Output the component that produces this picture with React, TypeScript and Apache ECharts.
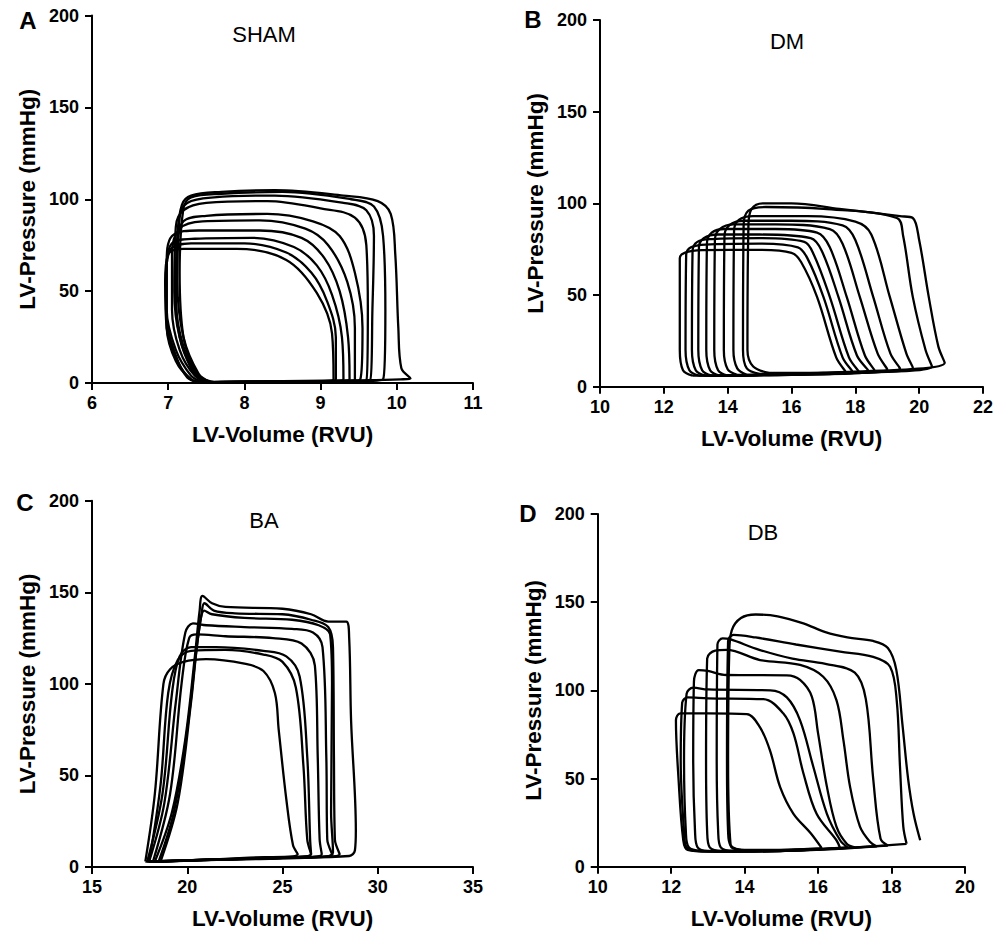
import { useEffect, useRef } from "react";
import * as echarts from "echarts";

type Pt = [number, number];

const panelLetters = ["A", "B", "C", "D"];
const groupNames = ["SHAM", "DM", "BA", "DB"];
const volumeMin = [6, 10, 15, 10];
const volumeMax = [11, 22, 35, 20];
const volumeStep = [1, 2, 5, 2];
const pressureMin = 0;
const pressureMax = 200;
const pressureStep = 50;
const xTitle = "LV-Volume (RVU)";
const yTitle = "LV-Pressure (mmHg)";

// Panel A – SHAM: pressure-volume loops [volume RVU, pressure mmHg]
const shamLoops: Pt[][] = [
  [[7.45,0.5],[8.5,1],[9.6,1.5],[10.05,2],[10.18,2.5],[10.06,8],[10.02,30],[9.98,70],[9.92,92],[9.75,99],[9.3,102],[8.4,105],[7.7,104],[7.3,102],[7.18,97],[7.12,80],[7.1,50],[7.15,25],[7.3,8],[7.45,0.5]],
  [[7.5,0.5],[9.4,1],[9.82,2],[9.85,40],[9.82,80],[9.7,96],[9.4,100],[8.5,104],[7.7,103],[7.3,101],[7.2,95],[7.15,60],[7.2,25],[7.35,7],[7.5,0.5]],
  [[7.55,0.5],[9.3,1],[9.65,1.5],[9.68,40],[9.7,80],[9.6,94],[9.3,98],[8.4,102],[7.6,101],[7.25,98],[7.15,90],[7.12,55],[7.2,25],[7.4,5],[7.55,0.5]],
  [[7.5,0.5],[9.2,1],[9.6,1.5],[9.62,40],[9.6,75],[9.45,90],[9.0,95],[8.3,99],[7.5,98],[7.2,94],[7.1,85],[7.08,50],[7.15,25],[7.35,5],[7.5,0.5]],
  [[7.6,0.5],[9.3,1],[9.52,2],[9.55,30],[9.45,60],[9.25,80],[8.9,88],[8.3,92],[7.5,91],[7.2,88],[7.12,75],[7.1,45],[7.2,20],[7.4,4],[7.6,0.5]],
  [[7.55,0.5],[9.2,1],[9.45,1.5],[9.45,30],[9.35,55],[9.1,75],[8.8,84],[8.2,88.5],[7.45,88],[7.15,84],[7.05,70],[7.05,40],[7.15,18],[7.35,4],[7.55,0.5]],
  [[7.45,0.5],[9.15,1],[9.38,2],[9.36,25],[9.25,50],[9.05,68],[8.75,79],[8.2,83],[7.4,83],[7.05,80],[6.98,65],[6.98,40],[7.1,18],[7.3,4],[7.45,0.5]],
  [[7.4,0.5],[9.1,1],[9.3,2],[9.28,25],[9.15,48],[8.95,64],[8.65,74],[8.1,79],[7.35,78.5],[7.05,76],[6.98,60],[6.98,35],[7.1,15],[7.25,3],[7.4,0.5]],
  [[7.4,0.5],[9.05,1],[9.2,2],[9.2,25],[9.08,45],[8.88,60],[8.55,71],[8.0,76],[7.3,76],[7.02,72],[6.97,55],[6.98,30],[7.1,12],[7.3,2],[7.45,0.5]],
  [[7.45,0.5],[9.0,1],[9.17,2],[9.15,27],[8.95,49],[8.55,67],[7.9,73],[7.2,73],[7.0,70],[6.96,55],[6.98,30],[7.12,12],[7.3,2],[7.45,0.5]],
];

// Panel B – DM
const dmLoops: Pt[][] = [
  [[12.9,6],[14,6],[16,6.5],[17.7,8],[17.4,16],[16.8,49],[16.3,68],[16.0,73],[15,74.6],[13.2,74.5],[12.65,73],[12.5,70],[12.5,20],[12.6,9],[12.9,6]],
  [[13.1,6],[15,6.5],[17.9,8.5],[17.6,16],[17.0,49],[16.5,70],[16.2,76],[15,78],[13.3,77.5],[12.85,76],[12.7,72],[12.68,20],[12.8,9],[13.1,6]],
  [[13.3,6],[15,6.5],[18.1,8.5],[17.8,16],[17.2,49],[16.7,72],[16.4,79],[15,81],[13.5,80.5],[13.05,79],[12.9,74],[12.88,20],[13.0,9],[13.3,6]],
  [[13.5,6],[15,6.5],[18.4,9],[18.05,17],[17.47,49],[16.95,74],[16.6,81],[15,83],[13.7,83],[13.25,81],[13.1,76],[13.08,20],[13.2,9],[13.5,6]],
  [[13.75,6],[15.5,6.5],[18.6,9],[18.3,17],[17.73,49],[17.2,76],[16.8,84],[15.5,86],[13.9,86],[13.5,84],[13.35,78],[13.33,20],[13.45,9],[13.75,6]],
  [[14.0,6],[16,7],[19.0,9.5],[18.7,18],[18.14,49],[17.6,78],[17.2,86],[15.5,88.5],[14.2,88.5],[13.75,86],[13.6,80],[13.58,20],[13.7,9],[14.0,6]],
  [[14.3,6.5],[16,7],[19.4,10],[19.1,18],[18.56,49],[18.0,80],[17.6,88],[16,90.5],[14.5,90.5],[14.05,88],[13.9,82],[13.88,20],[14.0,9.5],[14.3,6.5]],
  [[14.6,6.5],[16.5,7],[19.8,10.5],[19.6,18],[19.08,49],[18.5,83],[18.0,90],[16.5,93],[14.8,93],[14.35,91],[14.2,85],[14.18,20],[14.3,10],[14.6,6.5]],
  [[15.0,7],[17,7.5],[20.4,11],[20.2,20],[19.8,49],[19.5,82],[19.3,92],[17,97],[15.2,98],[14.65,96],[14.5,88],[14.48,20],[14.6,10],[15.0,7]],
  [[15.3,7.5],[17.5,8],[20.8,13],[20.6,22],[20.3,49],[20.0,80],[19.8,92],[19.4,93],[17.5,97],[16,100],[15.1,100],[14.75,97],[14.65,88],[14.62,20],[14.8,11],[15.3,7.5]],
];

// Panel C – BA
const baLoops: Pt[][] = [
  [[18.3,3],[19.2,30],[19.9,70],[20.4,115],[20.65,140],[20.8,148],[21.3,144],[22,142],[25,141],[26.5,138],[27.4,134],[28.35,134],[28.5,125],[28.6,80],[28.85,20],[28.8,9],[28.5,6],[25,5],[21,4],[18.3,3]],
  [[18.5,3],[19.3,30],[20.0,75],[20.5,120],[20.75,138],[20.9,144],[21.4,140],[22.5,138.5],[25,138],[26.5,135],[27.4,131],[27.65,120],[27.7,60],[27.75,15],[28.0,7],[25,5],[21,4],[18.5,3]],
  [[18.6,3],[19.5,35],[20.2,90],[20.6,128],[20.9,140],[21.3,138],[23,136],[25.5,135],[26.9,132],[27.5,127],[27.6,100],[27.55,30],[27.65,8],[27.2,5.5],[22,4],[18.6,3]],
  [[18.0,3],[18.8,35],[19.4,90],[19.9,128],[20.3,133],[21,132],[23,131],[25.5,130],[26.6,128],[27.1,120],[27.3,60],[27.35,15],[27.6,7],[25,5],[21,4],[18.0,3]],
  [[18.2,3],[19.1,40],[19.7,100],[20.1,125],[20.5,127],[22,126],[24.5,125],[26,122],[26.7,110],[26.85,60],[26.95,15],[27.06,7],[25,5],[21,4],[18.2,3]],
  [[17.9,3],[18.7,40],[19.2,95],[19.6,115],[20.2,120],[21.5,120],[24,118],[25.2,115],[25.9,104],[26.3,60],[26.45,15],[26.5,7],[24,5],[20,3.5],[17.9,3]],
  [[18.0,3],[18.6,45],[19.0,95],[19.5,113],[20.2,118],[22,118.5],[24,116],[25,112],[25.7,98],[26.1,55],[26.3,15],[26.5,7],[24,5],[20,3.5],[18.0,3]],
  [[17.8,3],[18.3,40],[18.75,100],[19.1,108],[19.8,112],[21,113.5],[23,111],[24,107],[24.6,95],[24.8,75],[25.2,37],[25.55,12],[25.8,7],[23,5],[20,3.5],[17.8,3]],
];

// Panel D – DB
const dbLoops: Pt[][] = [
  [[16.1,10.5],[15.8,19],[15.33,30],[14.97,45],[14.69,66],[14.42,79],[14.06,86.5],[13,87],[12.25,87],[12.13,83],[12.2,50],[12.33,15],[12.45,9.5],[13,8.5],[14.5,9],[16.1,10.5]],
  [[16.6,10.5],[16.5,15],[15.96,30],[15.6,53],[15.33,75.6],[15.05,87],[14.51,95],[13,95.5],[12.45,96],[12.3,93],[12.26,60],[12.35,20],[12.42,11],[12.7,9],[14,8.5],[16.6,10.5]],
  [[16.8,11],[16.6,15],[16.24,30],[15.87,56.7],[15.51,83],[15.15,96],[14.7,100],[13,100.5],[12.6,101.5],[12.42,98],[12.35,60],[12.4,20],[12.48,11],[12.8,9],[14,8.5],[16.8,11]],
  [[17.0,11],[16.78,13],[16.5,22.7],[16.24,45.4],[16.0,75.6],[15.83,96.4],[15.51,105.9],[15.15,108.5],[13.5,108.7],[13.0,111],[12.75,111.5],[12.62,105],[12.6,60],[12.65,20],[12.72,11],[13,9],[14.5,8.8],[17.0,11]],
  [[17.6,11.5],[17.41,14.2],[17.14,22.7],[16.87,45.4],[16.69,71.8],[16.5,94.5],[16.14,107.7],[15.51,114.4],[14.42,117.2],[13.51,122.9],[13.2,122.5],[12.98,118],[12.95,60],[12.98,20],[13.05,11],[13.4,9],[15,9],[17.6,11.5]],
  [[17.9,12],[17.7,16],[17.5,50],[17.3,95],[17.0,110],[16.2,115],[15.3,118],[14.4,123],[13.6,129],[13.4,129.5],[13.26,126],[13.24,60],[13.28,20],[13.35,11],[13.7,9],[15.5,9.5],[17.9,12]],
  [[18.41,13],[18.32,22.7],[18.23,56.7],[18.14,94.5],[17.96,113.4],[17.5,119],[16.6,122],[15.4,126],[14.3,130],[13.7,131.5],[13.55,128],[13.52,60],[13.55,20],[13.62,12],[14,9.5],[16,10],[18.41,13]],
  [[13.9,9.5],[13.62,12],[13.55,60],[13.58,120],[13.65,134],[13.9,141],[14.3,143],[14.9,142],[15.6,138],[16.2,133],[16.8,130],[17.5,128],[17.9,124],[18.13,111.6],[18.3,80],[18.45,50],[18.6,30],[18.78,15]],
];

const allLoops = [shamLoops, dmLoops, baLoops, dbLoops];

const FONT = '"Liberation Sans", Arial, Helvetica, sans-serif';

const layout = [
  { left: 92, top: 15.5, width: 381, height: 367.5, letter: [28, 20], group: [264, 34] },
  { left: 600, top: 20, width: 383, height: 366.7, letter: [533, 19], group: [787, 41] },
  { left: 92, top: 500.7, width: 381, height: 367.6, letter: [25, 502], group: [264, 520] },
  { left: 597.7, top: 514, width: 367.3, height: 352.7, letter: [528, 513], group: [763, 532] },
];

export default function App() {
  const ref = useRef<HTMLDivElement>(null);
  useEffect(() => {
    if (!ref.current) return;
    const chart = echarts.init(ref.current, undefined, { renderer: "svg" });
    const axisCommon = {
      axisLine: { show: true, onZero: false, lineStyle: { color: "#000", width: 2 } },
      axisTick: { show: true, length: 7, lineStyle: { color: "#000", width: 2 } },
      splitLine: { show: false },
      nameLocation: "middle" as const,
      nameTextStyle: { color: "#000", fontFamily: FONT, fontWeight: "bold" as const, fontSize: 22.5 },
    };
    const grid = layout.map((l) => ({ left: l.left, top: l.top, width: l.width, height: l.height, containLabel: false }));
    const xAxis = layout.map((_, i) => ({
      ...axisCommon,
      type: "value" as const,
      gridIndex: i,
      min: volumeMin[i],
      max: volumeMax[i],
      interval: volumeStep[i],
      name: xTitle,
      nameGap: 40,
      axisLabel: { color: "#000", fontFamily: FONT, fontWeight: "bold" as const, fontSize: 18, margin: 11 },
    }));
    const yAxis = layout.map((_, i) => ({
      ...axisCommon,
      type: "value" as const,
      gridIndex: i,
      min: pressureMin,
      max: pressureMax,
      interval: pressureStep,
      name: yTitle,
      nameGap: 53,
      axisLabel: { color: "#000", fontFamily: FONT, fontWeight: "bold" as const, fontSize: 18, margin: 13 },
    }));
    const series: any[] = [];
    allLoops.forEach((loops, i) => {
      loops.forEach((loop, j) => {
        series.push({
          type: "line",
          name: `${groupNames[i]} loop ${j + 1}`,
          xAxisIndex: i,
          yAxisIndex: i,
          data: loop,
          showSymbol: false,
          symbol: "none",
          smooth: 0.35,
          silent: true,
          lineStyle: { color: "#000", width: 2.3 },
        });
      });
    });
    const graphic: any[] = [];
    layout.forEach((l, i) => {
      graphic.push({
        type: "text",
        x: l.letter[0],
        y: l.letter[1],
        style: {
          text: panelLetters[i],
          fill: "#000",
          font: `bold 24px ${FONT}`,
          textAlign: "center",
          textVerticalAlign: "middle",
          align: "center",
          verticalAlign: "middle",
        },
      });
      graphic.push({
        type: "text",
        x: l.group[0],
        y: l.group[1],
        style: {
          text: groupNames[i],
          fill: "#000",
          font: `22px ${FONT}`,
          textAlign: "center",
          textVerticalAlign: "middle",
          align: "center",
          verticalAlign: "middle",
        },
      });
    });
    chart.setOption({
      animation: false,
      backgroundColor: "#fff",
      grid,
      xAxis,
      yAxis,
      series,
      graphic,
    });
    return () => chart.dispose();
  }, []);
  return <div ref={ref} style={{ position: "absolute", left: 0, top: 0, width: 1003, height: 931 }} />;
}
